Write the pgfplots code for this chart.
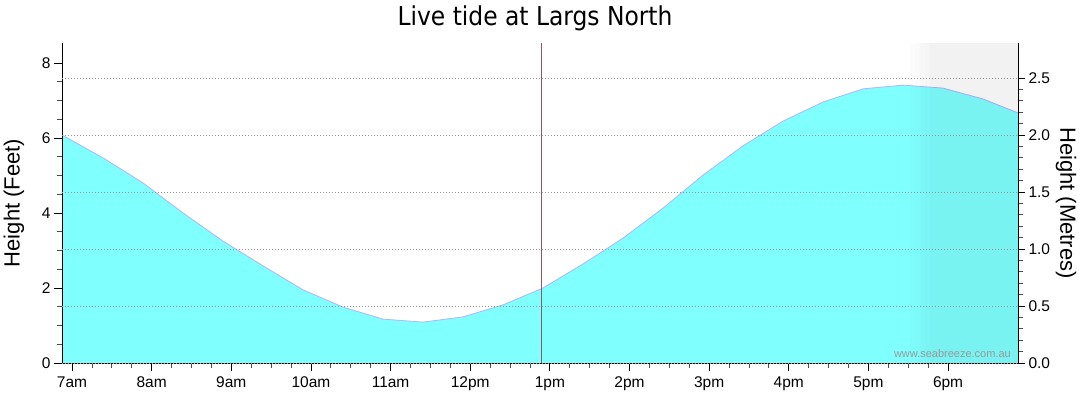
\documentclass[border=0pt]{standalone}
\usepackage{fontspec}
\setmainfont{Liberation Sans}
\newfontfamily\titlefont{DejaVu Sans Condensed}
\usepackage{pgfplots}
\usepackage{pgfplotstable}
\pgfplotsset{compat=1.18}
\definecolor{tide}{RGB}{128,255,255}
\definecolor{tideedge}{RGB}{175,180,255}
\definecolor{gridc}{RGB}{150,150,150}
\definecolor{nowc}{RGB}{150,85,95}
\pgfplotstableread{
h ft
6.874 6.08
7.389 5.47
7.892 4.80
8.394 4.00
8.896 3.25
9.398 2.59
9.901 1.95
10.403 1.49
10.905 1.17
11.407 1.09
11.910 1.23
12.412 1.55
12.914 2.00
13.416 2.64
13.919 3.33
14.421 4.13
14.923 5.01
15.425 5.79
15.928 6.45
16.430 6.96
16.932 7.31
17.434 7.41
17.937 7.33
18.439 7.04
18.878 6.67
}\tidedata
\begin{document}
\begin{tikzpicture}
\useasboundingbox (-62pt,-51pt) rectangle (1018pt,363pt);
\begin{axis}[
  at={(0,0)}, anchor=south west,
  scale only axis, width=956pt, height=320pt,
  xmin=6.874, xmax=18.878, ymin=0, ymax=8.533,
  axis x line*=bottom, axis y line*=left,
  axis on top,
  tick align=outside,
  xtick={7,...,18},
  xticklabels={7am,8am,9am,10am,11am,12pm,1pm,2pm,3pm,4pm,5pm,6pm},
  minor x tick num=3,
  ytick={0,2,4,6,8}, minor y tick num=3,
  major tick length=8pt, minor tick length=5pt,
  every tick/.style={black, line width=0.8pt},
  every minor tick/.style={black!70, line width=0.8pt},
  axis line style={line width=0.8pt, -},
  ticklabel style={font=\fontsize{15.5}{17}\selectfont},
  xticklabel style={yshift=-2pt},
  /pgf/number format/assume math mode=true,
  every axis y label/.style={at={(axis description cs:-0.0502,0.5)}, rotate=90, anchor=center, font=\fontsize{22}{24}\selectfont},
  ylabel={Height (Feet)},
  title style={at={(axis description cs:0.4948,1.036)}, anchor=base, font=\titlefont\fontsize{26}{28}\selectfont},
  title={Live tide at Largs North},
]
\addplot[fill=tide, draw=none] table[x=h, y=ft]{\tidedata} \closedcycle;
\addplot[draw=tideedge, line width=0.8pt] table[x=h, y=ft]{\tidedata};
\fill[black, fill opacity=0.01] (axis cs:17.522,0) rectangle (axis cs:17.585,8.533);
\fill[black, fill opacity=0.02] (axis cs:17.585,0) rectangle (axis cs:17.648,8.533);
\fill[black, fill opacity=0.03] (axis cs:17.648,0) rectangle (axis cs:17.711,8.533);
\fill[black, fill opacity=0.04] (axis cs:17.711,0) rectangle (axis cs:17.774,8.533);
\fill[black, fill opacity=0.05] (axis cs:17.774,0) rectangle (axis cs:18.878,8.533);
\addplot[nowc, line width=0.8pt] coordinates {(12.893,0) (12.893,8.533)};
\end{axis}
\begin{axis}[
  at={(0,0)}, anchor=south west,
  scale only axis, width=956pt, height=320pt,
  xmin=6.874, xmax=18.878, ymin=0, ymax=2.807,
  axis y line*=right, axis x line=none,
  tick align=outside,
  ytick={0,0.5,...,2.5}, minor y tick num=4,
  major tick length=7pt, minor tick length=5pt,
  every tick/.style={black, line width=0.8pt},
  every minor tick/.style={black!70, line width=0.8pt},
  axis line style={line width=0.8pt, -},
  ymajorgrids,
  grid style={gridc, dash pattern=on 1pt off 2pt, line width=0.8pt},
  ticklabel style={font=\fontsize{15.5}{17}\selectfont},
  yticklabel style={/pgf/number format/.cd, fixed, fixed zerofill, precision=1, assume math mode=true},
  every axis y label/.style={at={(axis description cs:1.0502,0.5)}, rotate=-90, anchor=center, font=\fontsize{22}{24}\selectfont},
  ylabel={Height (Metres)},
]
\addplot[draw=none] coordinates {(7,0)};
\node[anchor=east, text=black!40, font=\fontsize{11}{12}\selectfont, inner sep=0pt] at (rel axis cs:0.9927,0.031) {www.seabreeze.com.au};
\end{axis}
\end{tikzpicture}
\end{document}
